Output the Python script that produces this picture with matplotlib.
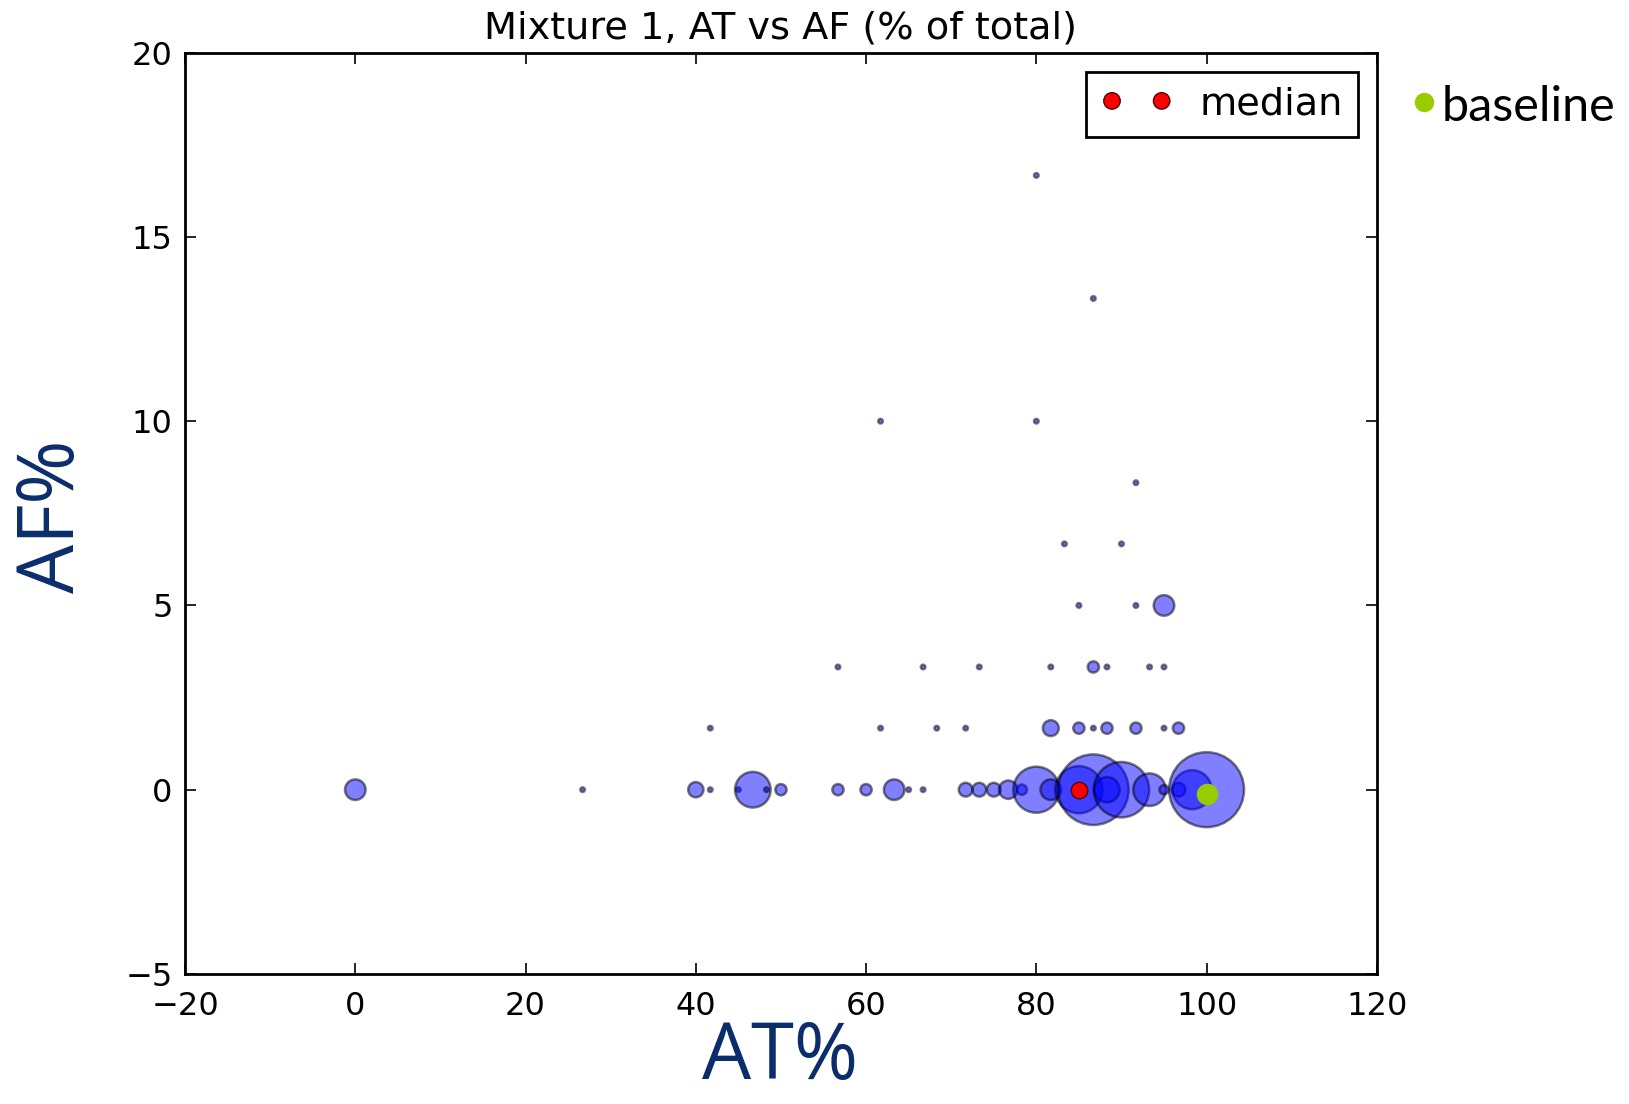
import matplotlib
matplotlib.use("Agg")
import matplotlib.pyplot as plt

# AT% / AF% per sample group, and how many samples sit on each point
at_vals = [0, 26.7, 40, 41.7, 45, 46.7, 48.3, 50, 56.7, 60, 63.3, 65, 66.7,
           71.7, 73.3, 75, 76.7, 78.3, 80, 81.7, 85, 86.7, 88.3, 90, 93.3,
           95, 96.7, 98.3, 100,
           41.7, 61.7, 68.3, 71.7, 81.7, 85, 86.7, 88.3, 91.7, 95, 96.7,
           56.7, 66.7, 73.3, 81.7, 86.7, 88.3, 93.3, 95,
           85, 91.7, 95,
           83.3, 90,
           91.7,
           61.7, 80,
           86.7,
           80]
af_vals = [0] * 29 + [1.67] * 11 + [3.33] * 8 + [5] * 3 + [6.67] * 2 + \
          [8.33] + [10] * 2 + [13.33] + [16.67]
counts = [20, 1, 11, 1, 1, 60, 1, 6, 6, 6, 20, 1, 1,
          9, 9, 9, 16, 5, 100, 20, 105, 235, 30, 145, 50,
          4, 9, 72, 265,
          1, 1, 1, 1, 12, 6, 1, 6, 6, 1, 6,
          1, 1, 1, 1, 6, 1, 1, 1,
          1, 1, 20,
          1, 1,
          1,
          1, 1,
          1,
          1]

median_at, median_af = 85, 0
baseline_at, baseline_af = 100, -0.12

fig = plt.figure(figsize=(16.29, 11.04), dpi=100)
ax = fig.add_axes([0.1136, 0.1178, 0.7316, 0.8345])

ax.scatter(at_vals, af_vals, s=[c * 11 for c in counts], c='b', alpha=0.5,
           edgecolors='k', linewidths=1.8)
ax.scatter([median_at], [median_af], s=140, c='r', edgecolors='#550000',
           linewidths=1, label='median', zorder=3)
ax.scatter([baseline_at], [baseline_af], s=240, c='#99cc00', linewidths=0,
           zorder=4)

ax.set_xlim(-20, 120)
ax.set_ylim(-5, 20)
ax.set_xticks([-20, 0, 20, 40, 60, 80, 100, 120])
ax.set_yticks([-5, 0, 5, 10, 15, 20])
ax.tick_params(direction='in', top=True, right=True, length=8, width=1.2,
               labelsize=23, colors='k')
ax.tick_params(axis='x', pad=12)
ax.tick_params(axis='y', pad=9)
for sp in ax.spines.values():
    sp.set_linewidth(2)

ax.set_title("Mixture 1, AT vs AF (% of total)", fontsize=27.5, pad=10)

leg = ax.legend(loc='upper right', scatterpoints=2, scatteryoffsets=[0.5],
                fontsize=27.5, fancybox=False, framealpha=1,
                borderaxespad=0.5, handletextpad=0.7, handlelength=1.9,
                borderpad=0.38)
leg.get_frame().set_edgecolor('k')
leg.get_frame().set_linewidth(2)

# axis titles and the baseline key, added on top of the figure
navy = '#0b2d6b'
fig.text(0.479, 0.005, "AT%", fontsize=56, color=navy, family='Open Sans',
         ha='center', va='bottom')
fig.text(0.033, 0.532, "AF%", fontsize=56, color=navy, family='Open Sans',
         ha='center', va='center', rotation=90)
ax.plot([0.874], [0.908], 'o', color='#99cc00', markersize=14, mec='none',
        transform=fig.transFigure, clip_on=False)
fig.text(0.885, 0.903, "baseline", fontsize=35, family='Lato', color='k',
         ha='left', va='center')

fig.savefig("out.png", dpi=100)
